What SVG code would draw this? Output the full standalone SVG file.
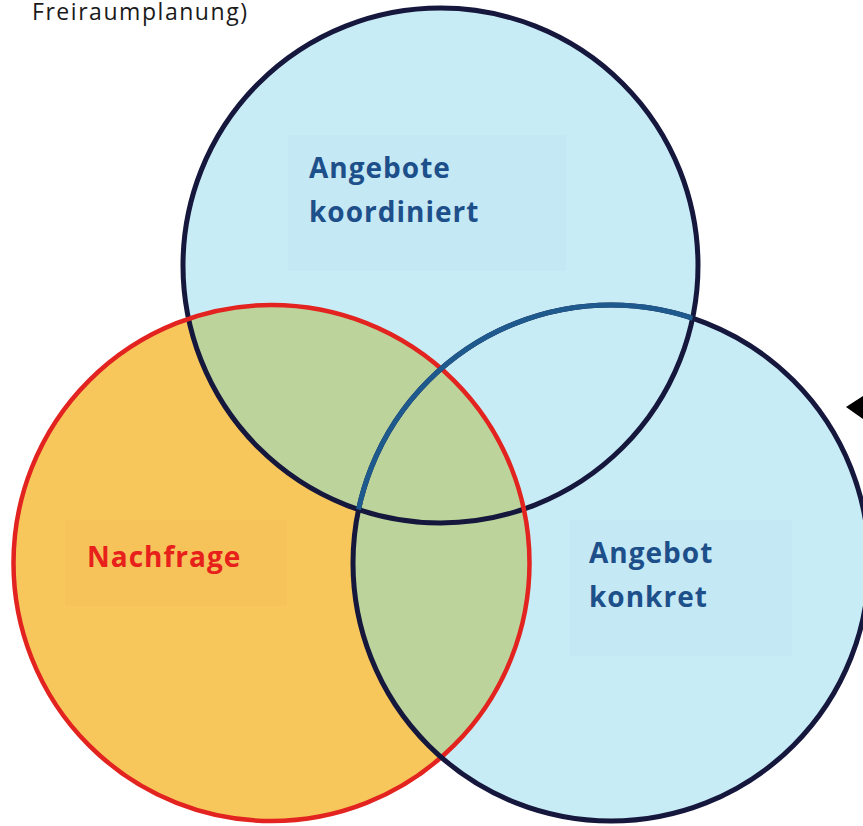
<svg xmlns="http://www.w3.org/2000/svg" width="863" height="826" viewBox="0 0 863 826">
<style>
.cyan{fill:#c8ecf6}
.orange{fill:#f8c75c}
.green{fill:#bcd49b}
.navy{fill:none;stroke:#15173d;stroke-width:5}
.redline{fill:none;stroke:#e2231f;stroke-width:4.5}
.blueline{fill:none;stroke:#1f5a8e;stroke-width:5}
.lbl{font-family:"Open Sans","Noto Sans",sans-serif;font-weight:bold;font-size:28px;letter-spacing:1px}
.blue{fill:#1d4f8a}
.red{fill:#e8201c}
</style>
<defs>
<clipPath id="cTop"><circle cx="440.5" cy="265.5" r="257.5"/></clipPath>
<clipPath id="cRight"><circle cx="611" cy="563" r="258"/></clipPath>
</defs>
<rect width="863" height="826" fill="#ffffff"/>
<text x="32" y="20" font-family="'Open Sans','Noto Sans',sans-serif" font-size="23" fill="#1a1a1a" textLength="215" lengthAdjust="spacing">Freiraumplanung)</text>
<g id="fills">
<circle class="cyan" cx="440.5" cy="265.5" r="257.5"/>
<circle class="cyan" cx="611" cy="563" r="258"/>
<circle class="orange" cx="271.5" cy="563" r="258"/>
<circle class="green" cx="271.5" cy="563" r="258" clip-path="url(#cTop)"/>
<circle class="green" cx="271.5" cy="563" r="258" clip-path="url(#cRight)"/>
<rect x="288" y="135" width="278" height="136" fill="#bfe6f1" opacity="0.35"/>
<rect x="65" y="520" width="222" height="86" fill="#f2be52" opacity="0.35"/>
<rect x="570" y="520" width="222" height="136" fill="#bfe6f1" opacity="0.35"/>
</g>
<g id="node-top">
<circle class="navy" cx="440.5" cy="265.5" r="257.5"/>
<text class="lbl blue" x="309" y="178">Angebote</text>
<text class="lbl blue" x="309" y="222">koordiniert</text>
</g>
<g id="node-nachfrage">
<circle class="redline" cx="271.5" cy="563" r="258"/>
<text class="lbl red" x="87" y="567">Nachfrage</text>
</g>
<g id="node-right">
<circle class="navy" cx="611" cy="563" r="258"/>
<circle class="blueline" cx="611" cy="563" r="258" clip-path="url(#cTop)"/>
<text class="lbl blue" x="589" y="563">Angebot</text>
<text class="lbl blue" x="589" y="607">konkret</text>
</g>
<g id="connectors">
<polygon points="846,407 863,396 863,419" fill="#000"/>
</g>
</svg>
